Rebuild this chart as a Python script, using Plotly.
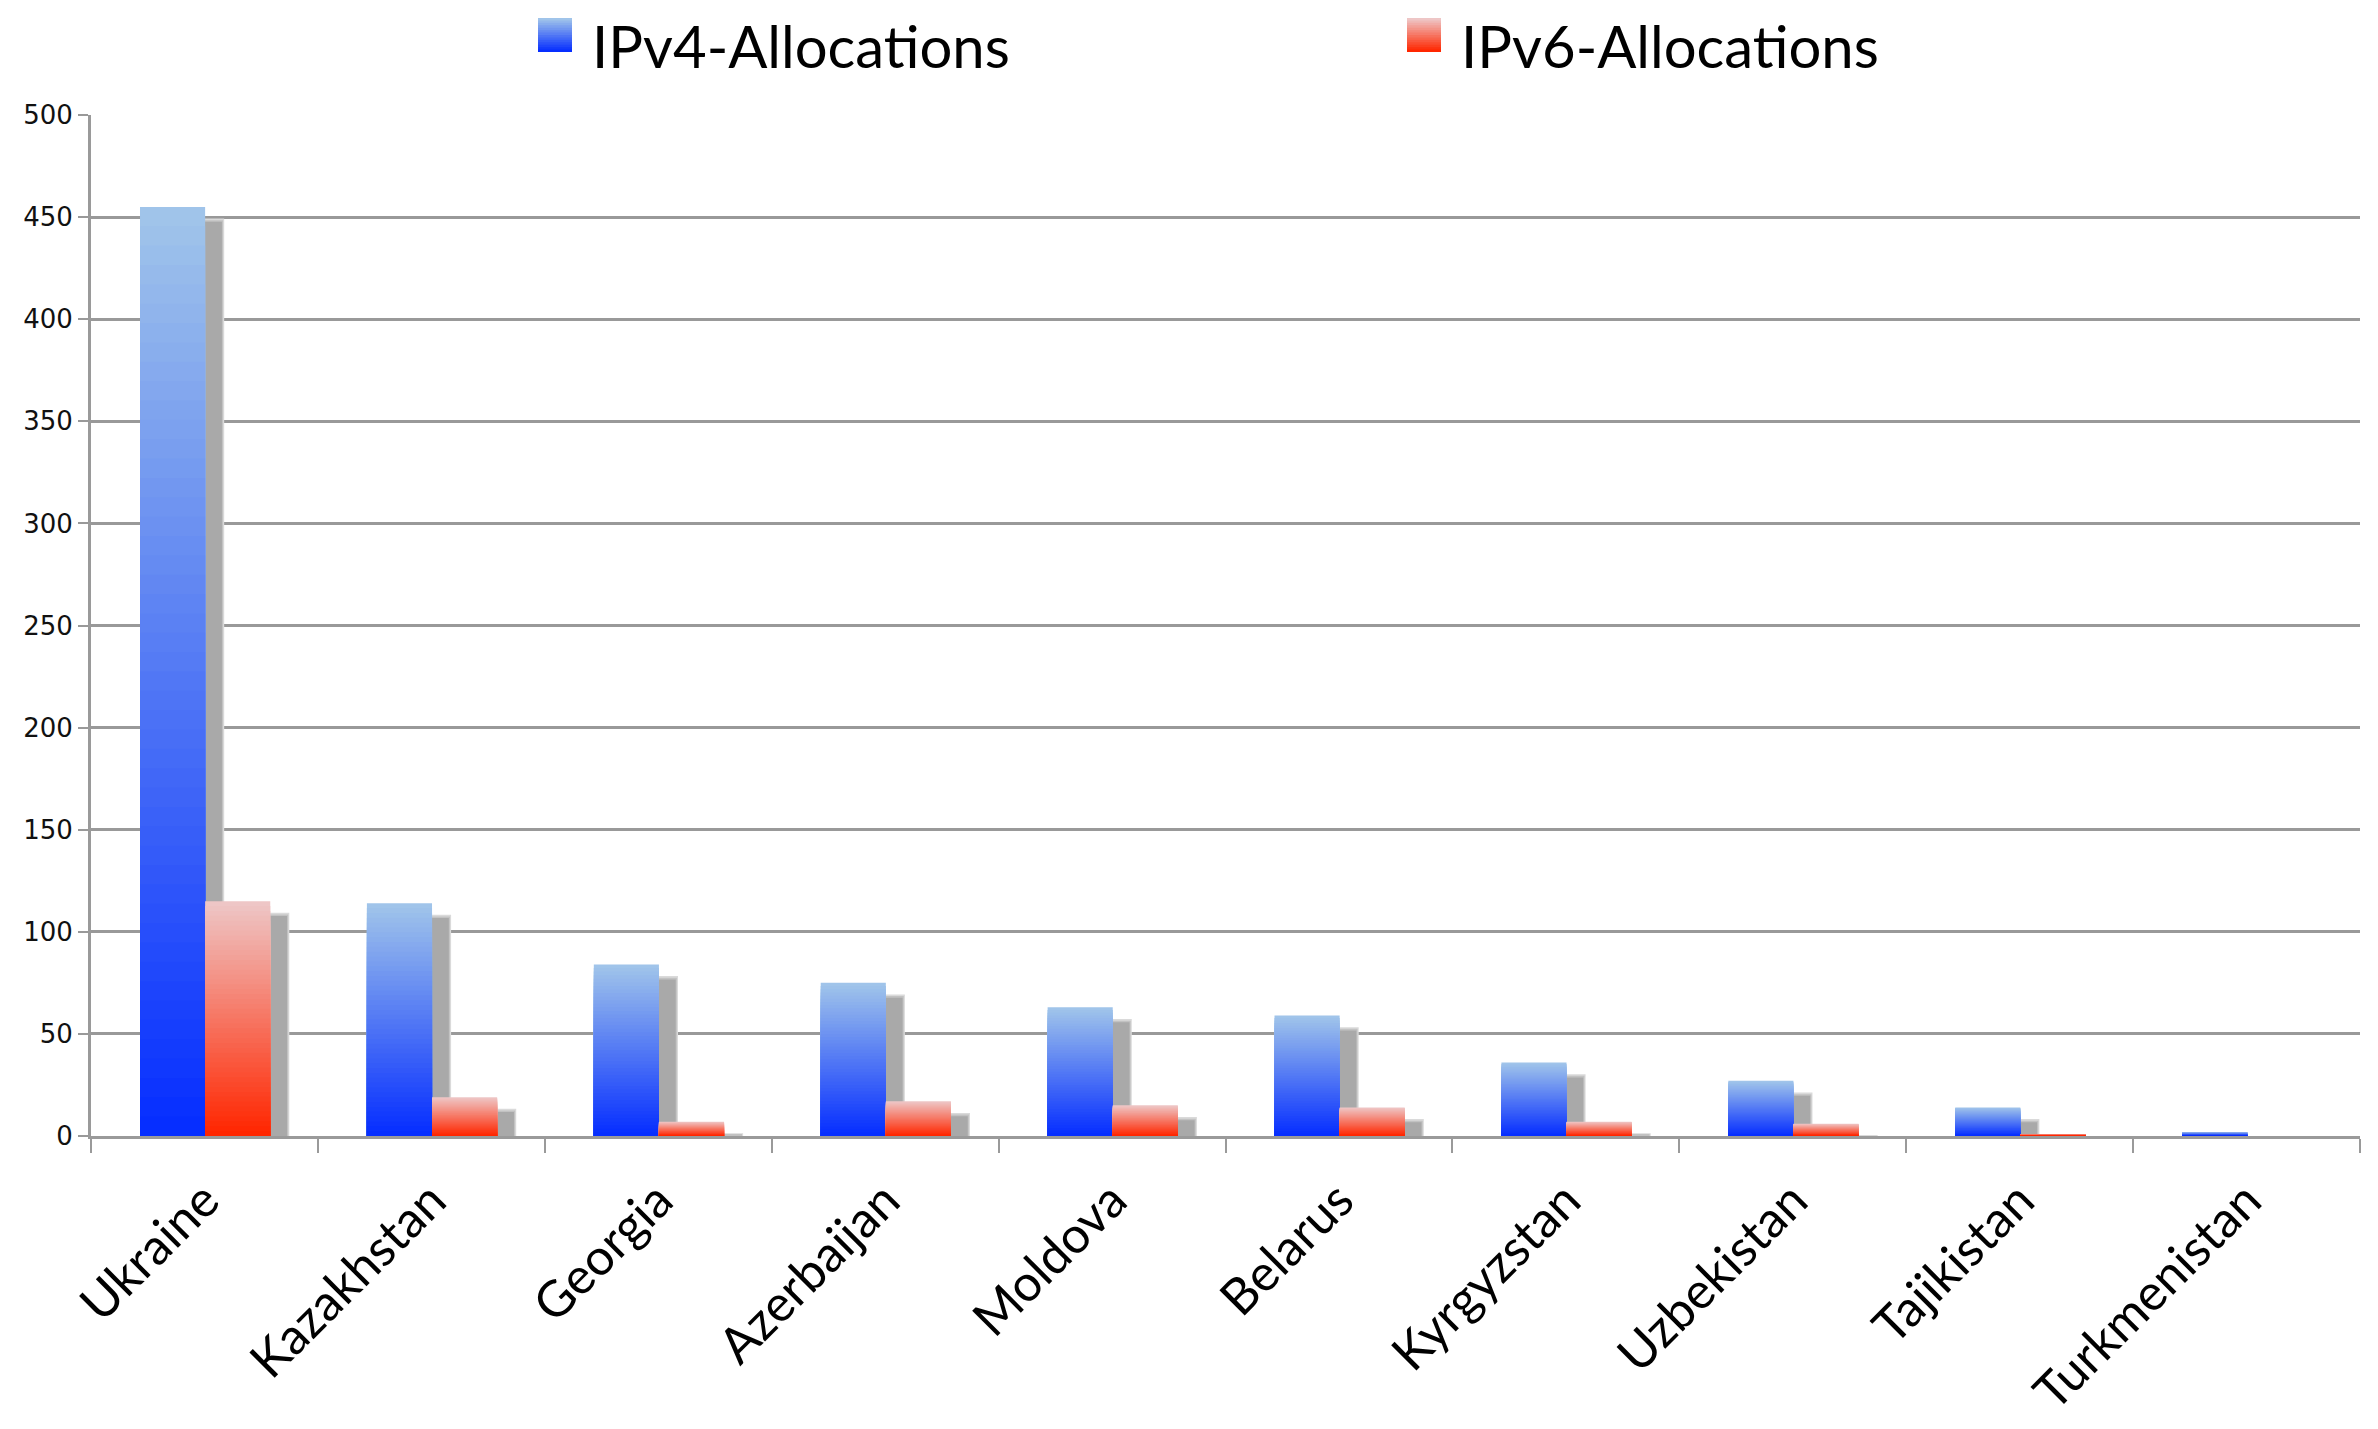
import plotly.graph_objects as go

# ---------------- data ----------------
countries = ["Ukraine", "Kazakhstan", "Georgia", "Azerbaijan", "Moldova",
             "Belarus", "Kyrgyzstan", "Uzbekistan", "Tajikistan", "Turkmenistan"]
ipv4_alloc = [455, 114, 84, 75, 63, 59, 36, 27, 14, 2]
ipv6_alloc = [115, 19, 7, 17, 15, 14, 7, 6, 1, 0]
series_names = ["IPv4-Allocations", "IPv6-Allocations"]
y_tick_values = [0, 50, 100, 150, 200, 250, 300, 350, 400, 450, 500]

# ---------------- style ----------------
PAGE_OFF = 8                      # default body margin of the html page
W, H = 2378 - 2 * PAGE_OFF, 1429 - 2 * PAGE_OFF
# plot area in page pixels: x 91..2360, y 115..1136
ML = 91 - PAGE_OFF
MR = W - (2360 - PAGE_OFF)
MT = 115 - PAGE_OFF
MB = H - (1136 - PAGE_OFF)
PW, PH = W - ML - MR, H - MT - MB

BLUE_TOP, BLUE_BOT = (160, 196, 234), (6, 46, 255)
RED_TOP, RED_BOT = (238, 198, 198), (255, 38, 0)
N_STEPS = 48
BAR_W = 0.287
OFFSETS = [-0.284, 0.003]
SHADOW_DX = 0.074
SHADOW_DY = 7.3


def lerp(c1, c2, t):
    return "rgb(%d,%d,%d)" % tuple(round(a + (b - a) * t) for a, b in zip(c1, c2))


fig = go.Figure()

series = [(ipv4_alloc, BLUE_TOP, BLUE_BOT, OFFSETS[0]),
          (ipv6_alloc, RED_TOP, RED_BOT, OFFSETS[1])]

# drop shadows (blurred halo + core)
for vals, _, _, off in series:
    fig.add_trace(go.Bar(
        x=countries, y=[max(v - SHADOW_DY + 1.6, 0) for v in vals],
        width=BAR_W + 0.02, offset=off + SHADOW_DX - 0.01,
        marker=dict(color="#DADADA", line=dict(width=0)),
        showlegend=False, hoverinfo="skip"))
    fig.add_trace(go.Bar(
        x=countries, y=[max(v - SHADOW_DY + 0.8, 0) for v in vals],
        width=BAR_W + 0.01, offset=off + SHADOW_DX - 0.005,
        marker=dict(color="#C2C2C2", line=dict(width=0)),
        showlegend=False, hoverinfo="skip"))
    fig.add_trace(go.Bar(
        x=countries, y=[max(v - SHADOW_DY, 0) for v in vals],
        width=BAR_W, offset=off + SHADOW_DX,
        marker=dict(color="#A9A9A9", line=dict(width=0)),
        showlegend=False, hoverinfo="skip"))

# gradient bars: overlapping bars, progressively shorter and darker
for (vals, ctop, cbot, off), name in zip(series, series_names):
    for k in range(N_STEPS):
        frac = (N_STEPS - k) / N_STEPS
        fig.add_trace(go.Bar(
            x=countries, y=[v * frac for v in vals],
            width=BAR_W, offset=off,
            marker=dict(color=lerp(ctop, cbot, k / (N_STEPS - 1)), line=dict(width=0)),
            name=name, showlegend=False,
            hoverinfo="skip" if k else None,
            customdata=vals,
            hovertemplate=("%{x}: %{customdata}<extra>" + name + "</extra>") if k == 0 else None))

# ---------------- legend (shapes + text) ----------------
def px_x(px):
    return (px - PAGE_OFF - ML) / PW


def px_y(py):
    return (H - MB - (py - PAGE_OFF)) / PH


shapes = []
annotations = []
legend_items = [(538, 591, BLUE_TOP, BLUE_BOT), (1407, 1460, RED_TOP, RED_BOT)]
SQ = 34
SQ_TOP = 18
for (sx, tx, ctop, cbot), name in zip(legend_items, series_names):
    n = 14
    for k in range(n):
        y0 = SQ_TOP + SQ * k / n
        shapes.append(dict(type="rect", xref="paper", yref="paper",
                           x0=px_x(sx), x1=px_x(sx + SQ),
                           y0=px_y(SQ_TOP + SQ), y1=px_y(y0),
                           fillcolor=lerp(ctop, cbot, k / (n - 1)),
                           line=dict(width=0), layer="above"))
    annotations.append(dict(text=name, xref="paper", yref="paper",
                            x=px_x(tx), y=px_y(46), xanchor="left", yanchor="middle",
                            showarrow=False, borderpad=0,
                            font=dict(family="Lato", size=58, color="#000")))

fig.update_layout(
    width=W, height=H,
    margin=dict(l=ML, r=MR, t=MT, b=MB, autoexpand=False),
    paper_bgcolor="white", plot_bgcolor="white",
    barmode="overlay",
    showlegend=False,
    shapes=shapes, annotations=annotations,
    xaxis=dict(type="category", range=[-0.5, 9.5], automargin=False,
               tickson="boundaries", ticks="outside", ticklen=14, tickwidth=2,
               tickcolor="#9A9A9A", showline=True, linecolor="#9A9A9A", linewidth=3,
               showgrid=False, tickangle=-45, ticklabelstandoff=12,
               tickfont=dict(family="Lato", size=50, color="#000")),
    yaxis=dict(range=[0, 500], tickvals=y_tick_values, automargin=False,
               showgrid=True, gridcolor="#999999", gridwidth=2.5,
               ticks="outside", ticklen=10, tickwidth=2, tickcolor="#999999",
               showline=True, linecolor="#9A9A9A", linewidth=3, zeroline=False,
               tickfont=dict(family="DejaVu Sans", size=26, color="#111")),
)

fig.write_html("out.html")
